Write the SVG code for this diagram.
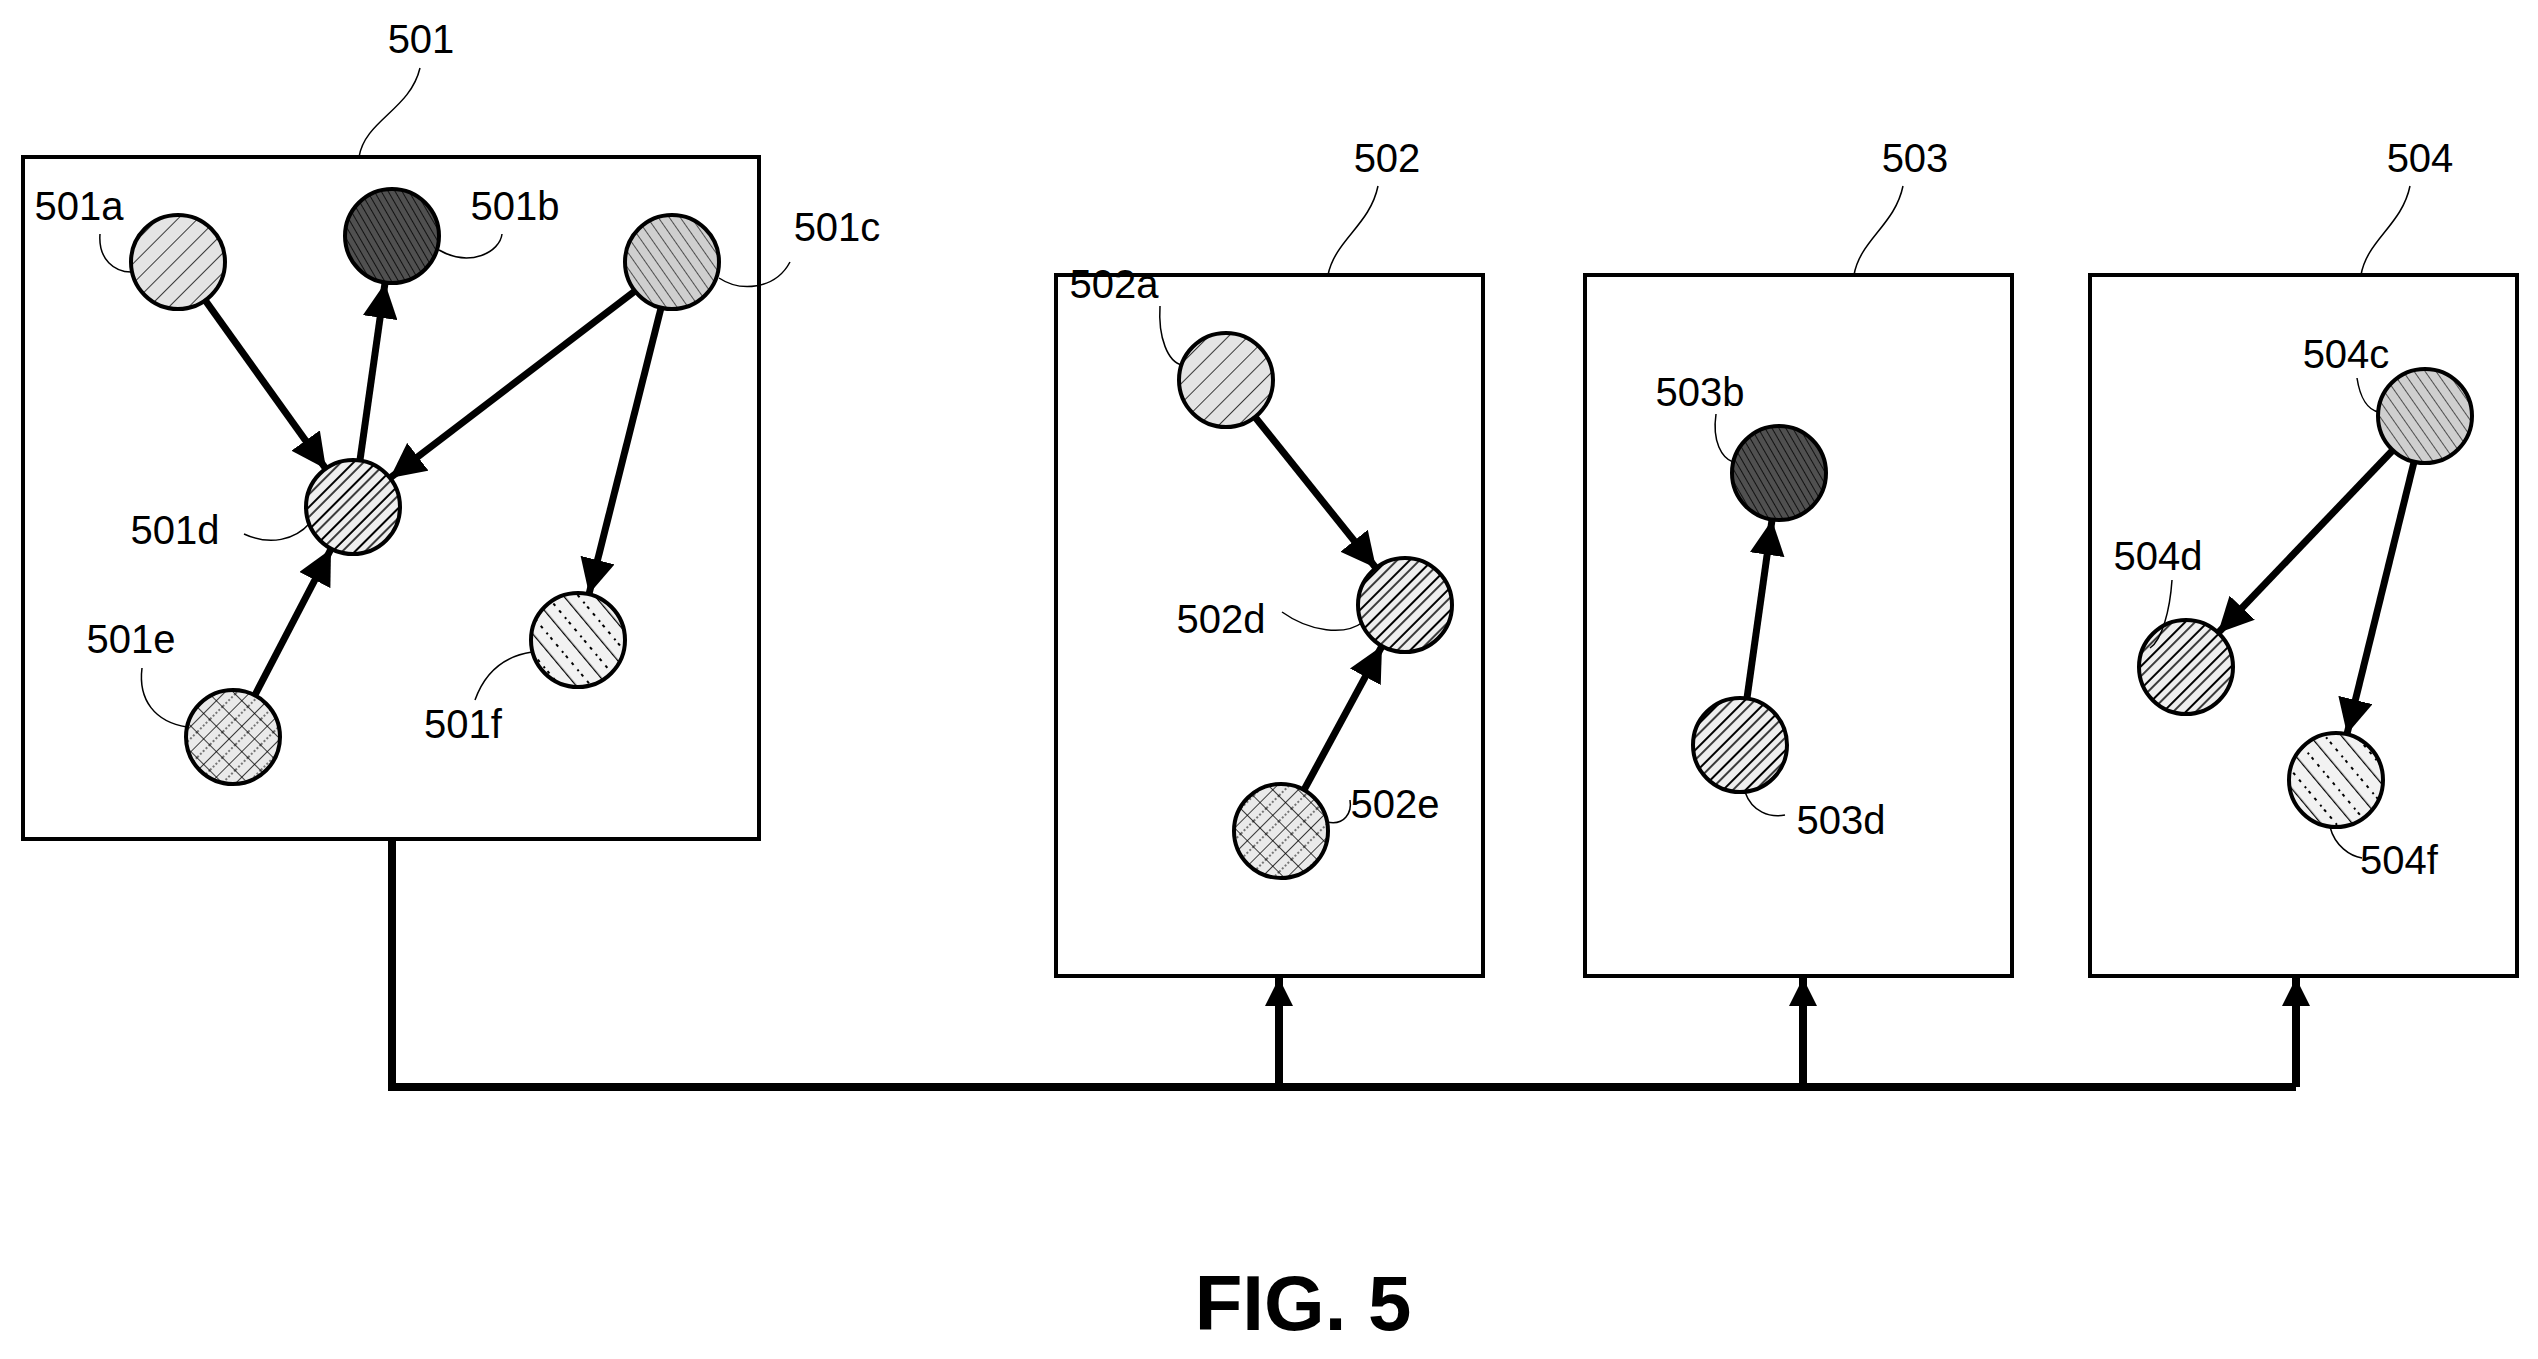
<svg xmlns="http://www.w3.org/2000/svg" width="2538" height="1359" viewBox="0 0 2538 1359">
<style>
.box{fill:none;stroke:#000;stroke-width:4}
.node{stroke:#000;stroke-width:4}
.lbl{font-family:"Liberation Sans",Arial,sans-serif;font-size:40px;fill:#000;text-anchor:middle}
.lead{fill:none;stroke:#000;stroke-width:1.5}
.edge{stroke:#000;stroke-width:7;fill:none;marker-end:url(#ah)}
.bus{stroke:#000;stroke-width:8;fill:none}
.busup{stroke:#000;stroke-width:8;fill:none;marker-end:url(#ahb)}
</style>
<defs>
<marker id="ah" viewBox="0 0 10 10" refX="10" refY="5" markerWidth="5" markerHeight="5" orient="auto" markerUnits="strokeWidth"><path d="M0,0 L10,5 L0,10 z" fill="#000"/></marker>
<marker id="ahb" viewBox="0 0 10 10" refX="10" refY="5" markerWidth="3.5" markerHeight="3.5" orient="auto" markerUnits="strokeWidth"><path d="M0,0 L10,5 L0,10 z" fill="#000"/></marker>
<pattern id="pa" width="14" height="14" patternUnits="userSpaceOnUse" patternTransform="rotate(45)"><rect width="14" height="14" fill="#e4e4e4"/><line x1="0" y1="0" x2="0" y2="14" stroke="#000" stroke-width="1.5"/></pattern>
<pattern id="pb" width="6" height="6" patternUnits="userSpaceOnUse" patternTransform="rotate(-30)"><rect width="6" height="6" fill="#505050"/><line x1="0" y1="0" x2="0" y2="6" stroke="#111" stroke-width="2"/></pattern>
<pattern id="pc" width="9" height="9" patternUnits="userSpaceOnUse" patternTransform="rotate(-35)"><rect width="9" height="9" fill="#cfcfcf"/><line x1="0" y1="0" x2="0" y2="9" stroke="#222" stroke-width="1.5"/></pattern>
<pattern id="pd" width="16" height="16" patternUnits="userSpaceOnUse" patternTransform="rotate(45)"><rect width="16" height="16" fill="#eee"/><line x1="0" y1="0" x2="0" y2="16" stroke="#000" stroke-width="4"/><line x1="8" y1="0" x2="8" y2="16" stroke="#000" stroke-width="1.5"/></pattern>
<pattern id="pe" width="18" height="18" patternUnits="userSpaceOnUse" patternTransform="rotate(45)"><rect width="18" height="18" fill="#eaeaea"/><line x1="0" y1="0" x2="0" y2="18" stroke="#000" stroke-width="1.5"/><line x1="0" y1="0" x2="18" y2="0" stroke="#000" stroke-width="1.5"/><line x1="9" y1="0" x2="9" y2="18" stroke="#000" stroke-width="1" stroke-dasharray="2,2"/></pattern>
<pattern id="pf" width="24" height="24" patternUnits="userSpaceOnUse" patternTransform="rotate(-40)"><rect width="24" height="24" fill="#f2f2f2"/><line x1="0" y1="0" x2="0" y2="24" stroke="#000" stroke-width="2.5"/><line x1="12" y1="2" x2="12" y2="22" stroke="#000" stroke-width="2" stroke-dasharray="3,6"/></pattern>
</defs>
<rect width="2538" height="1359" fill="#fff"/>

<g id="connectors">
<line class="edge" x1="205" y1="300" x2="326" y2="469"/>
<line class="edge" x1="360" y1="460" x2="385" y2="283"/>
<line class="edge" x1="635" y1="291" x2="390" y2="478"/>
<line class="edge" x1="661" y1="308" x2="589" y2="594"/>
<line class="edge" x1="255" y1="695" x2="331" y2="549"/>
<line class="edge" x1="1255" y1="417" x2="1376" y2="568"/>
<line class="edge" x1="1304" y1="790" x2="1382" y2="646"/>
<line class="edge" x1="1747" y1="698" x2="1772" y2="520"/>
<line class="edge" x1="2393" y1="450" x2="2218" y2="633"/>
<line class="edge" x1="2414" y1="462" x2="2347" y2="734"/>
<path class="bus" d="M392,839 V1087 H2296"/>
<line class="busup" x1="1279" y1="1087" x2="1279" y2="978"/>
<line class="busup" x1="1803" y1="1087" x2="1803" y2="978"/>
<line class="busup" x1="2296" y1="1087" x2="2296" y2="978"/>
</g>

<g id="n501"><rect class="box" x="23" y="157" width="736" height="682"/><text class="lbl" x="421" y="53">501</text><path class="lead" d="M359,157 C365,120 410,110 420,68"/></g>
<g id="n502"><rect class="box" x="1056" y="275" width="427" height="701"/><text class="lbl" x="1387" y="172">502</text><path class="lead" d="M1328,275 C1335,240 1370,225 1378,186"/></g>
<g id="n503"><rect class="box" x="1585" y="275" width="427" height="701"/><text class="lbl" x="1915" y="172">503</text><path class="lead" d="M1854,275 C1860,240 1895,225 1903,186"/></g>
<g id="n504"><rect class="box" x="2090" y="275" width="427" height="701"/><text class="lbl" x="2420" y="172">504</text><path class="lead" d="M2361,275 C2367,240 2402,225 2410,186"/></g>

<g id="n501a"><circle class="node" cx="178" cy="262" r="47" fill="url(#pa)"/><text class="lbl" x="79" y="220">501a</text><path class="lead" d="M100,234 C98,260 115,272 131,272"/></g>
<g id="n501b"><circle class="node" cx="392" cy="236" r="47" fill="url(#pb)"/><text class="lbl" x="515" y="220">501b</text><path class="lead" d="M439,250 C470,268 500,252 502,234"/></g>
<g id="n501c"><circle class="node" cx="672" cy="262" r="47" fill="url(#pc)"/><text class="lbl" x="837" y="241">501c</text><path class="lead" d="M719,278 C740,292 775,290 790,262"/></g>
<g id="n501d"><circle class="node" cx="353" cy="507" r="47" fill="url(#pd)"/><text class="lbl" x="175" y="544">501d</text><path class="lead" d="M244,534 C270,546 295,540 310,523"/></g>
<g id="n501e"><circle class="node" cx="233" cy="737" r="47" fill="url(#pe)"/><text class="lbl" x="131" y="653">501e</text><path class="lead" d="M142,668 C138,700 155,722 187,727"/></g>
<g id="n501f"><circle class="node" cx="578" cy="640" r="47" fill="url(#pf)"/><text class="lbl" x="463" y="738">501f</text><path class="lead" d="M475,700 C485,672 505,656 532,652"/></g>

<g id="n502a"><circle class="node" cx="1226" cy="380" r="47" fill="url(#pa)"/><text class="lbl" x="1114" y="298">502a</text><path class="lead" d="M1160,306 C1158,338 1168,362 1182,365"/></g>
<g id="n502d"><circle class="node" cx="1405" cy="605" r="47" fill="url(#pd)"/><text class="lbl" x="1221" y="633">502d</text><path class="lead" d="M1282,612 C1310,632 1345,636 1363,622"/></g>
<g id="n502e"><circle class="node" cx="1281" cy="831" r="47" fill="url(#pe)"/><text class="lbl" x="1395" y="818">502e</text><path class="lead" d="M1327,822 C1345,826 1352,812 1350,800"/></g>

<g id="n503b"><circle class="node" cx="1779" cy="473" r="47" fill="url(#pb)"/><text class="lbl" x="1700" y="406">503b</text><path class="lead" d="M1716,414 C1712,442 1722,458 1733,462"/></g>
<g id="n503d"><circle class="node" cx="1740" cy="745" r="47" fill="url(#pd)"/><text class="lbl" x="1841" y="834">503d</text><path class="lead" d="M1745,792 C1752,812 1770,818 1785,815"/></g>

<g id="n504c"><circle class="node" cx="2425" cy="416" r="47" fill="url(#pc)"/><text class="lbl" x="2346" y="368">504c</text><path class="lead" d="M2357,378 C2360,398 2368,410 2379,412"/></g>
<g id="n504d"><circle class="node" cx="2186" cy="667" r="47" fill="url(#pd)"/><text class="lbl" x="2158" y="570">504d</text><path class="lead" d="M2172,580 C2170,610 2162,640 2150,648"/></g>
<g id="n504f"><circle class="node" cx="2336" cy="780" r="47" fill="url(#pf)"/><text class="lbl" x="2399" y="874">504f</text><path class="lead" d="M2330,827 C2335,846 2350,856 2362,858"/></g>

<text x="1303" y="1330" font-family="Liberation Sans,Arial,sans-serif" font-size="78" font-weight="bold" text-anchor="middle">FIG. 5</text>
</svg>
